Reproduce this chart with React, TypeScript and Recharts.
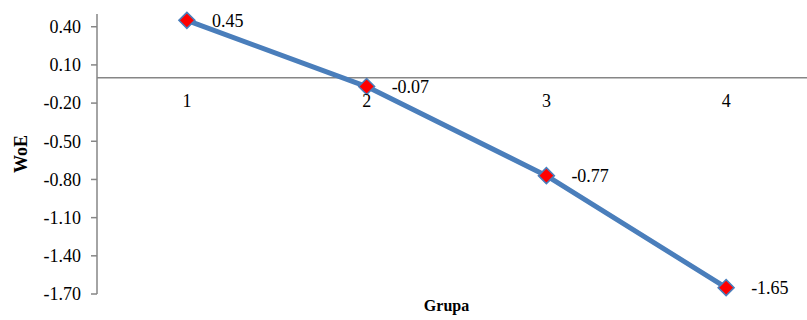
import {
  LabelList,
  Line,
  LineChart,
  ReferenceDot,
  ReferenceLine,
  XAxis,
  YAxis,
} from "recharts";

const GROUPS = ["1", "2", "3", "4"];
const WOE_VALUES = [0.45, -0.07, -0.77, -1.65];
const Y_TICKS = [0.4, 0.1, -0.2, -0.5, -0.8, -1.1, -1.4, -1.7];

const AXIS_GREY = "#868686";
const LINE_BLUE = "#4A7EBB";
const FONT = '"Liberation Serif", "Times New Roman", serif';

const data = GROUPS.map((grupa, i) => ({ grupa, woe: WOE_VALUES[i] }));

// rombos rojos con borde azul en cada punto
const renderDiamond = (props: any) => {
  const { cx, cy, index } = props;
  if (cx == null || cy == null) return <g key={`d-${index}`} />;
  const r = 8;
  return (
    <polygon
      key={`d-${index}`}
      points={`${cx},${cy - r} ${cx + r},${cy} ${cx},${cy + r} ${cx - r},${cy}`}
      fill="#FF0000"
      stroke={LINE_BLUE}
      strokeWidth={1.5}
    />
  );
};

export default function App() {
  return (
    <div
      style={{
        position: "fixed",
        left: 0,
        top: 0,
        width: 807,
        height: 320,
        overflow: "hidden",
        background: "#fff",
      }}
    >
      <LineChart
        width={816}
        height={320}
        data={data}
        margin={{ top: 14, right: 0, bottom: 0, left: 0 }}
        style={{ fontFamily: FONT }}
      >
        <XAxis
          dataKey="grupa"
          scale="band"
          height={26}
          axisLine={false}
          tickLine={false}
          tick={false}
          label={{
            value: "Grupa",
            position: "insideBottom",
            offset: 9,
            dx: -10,
            fill: "#000",
            fontSize: 16,
            fontWeight: 700,
            fontFamily: FONT,
          }}
        />
        <YAxis
          width={97}
          domain={[-1.7, 0.5]}
          ticks={Y_TICKS}
          interval={0}
          tickFormatter={(v: number) => v.toFixed(2)}
          tick={{ fill: "#000", fontSize: 18, fontFamily: FONT }}
          tickSize={6}
          tickMargin={10}
          axisLine={{ stroke: AXIS_GREY, strokeWidth: 1.5 }}
          tickLine={{ stroke: AXIS_GREY, strokeWidth: 1.5 }}
          label={{
            value: "WoE",
            angle: -90,
            position: "insideLeft",
            offset: 21,
            textAnchor: "middle",
            fill: "#000",
            fontSize: 18,
            fontWeight: 700,
            fontFamily: FONT,
          }}
        />
        <ReferenceLine y={0} stroke={AXIS_GREY} strokeWidth={1.5} />
        {/* etiquetas de grupo junto a la línea del cero */}
        {GROUPS.map((g) => (
          <ReferenceDot
            key={g}
            x={g}
            y={0}
            r={0}
            fill="none"
            stroke="none"
            label={{
              value: g,
              position: "bottom",
              offset: 17,
              fill: "#000",
              fontSize: 18,
              fontFamily: FONT,
            }}
          />
        ))}
        <Line
          type="linear"
          dataKey="woe"
          stroke={LINE_BLUE}
          strokeWidth={5}
          strokeLinejoin="round"
          dot={renderDiamond}
          activeDot={false}
          isAnimationActive={false}
        >
          <LabelList
            dataKey="woe"
            position="right"
            offset={25}
            formatter={(v: any) => Number(v).toFixed(2)}
            fill="#000"
            fontSize={18}
            fontFamily={FONT}
          />
        </Line>
      </LineChart>
    </div>
  );
}
